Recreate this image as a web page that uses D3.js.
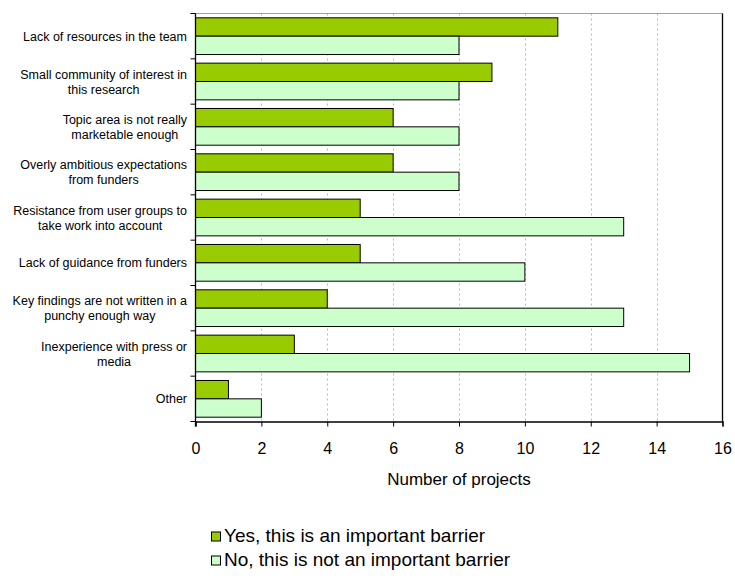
<!DOCTYPE html>
<html>
<head>
<meta charset="utf-8">
<script src="https://cdn.jsdelivr.net/npm/d3@7"></script>
<style>
  html, body { margin: 0; padding: 0; background: #fff; }
  svg { display: block; font-family: "Liberation Sans", Arial, sans-serif; }
</style>
</head>
<body>
<svg id="chart" width="735" height="576"></svg>
<script>
const categories = [
  ["Lack of resources in the team"],
  ["Small community of interest in", "this research"],
  ["Topic area is not really", "marketable enough"],
  ["Overly ambitious expectations", "from funders"],
  ["Resistance from user groups to", "take work into account"],
  ["Lack of guidance from funders"],
  ["Key findings are not written in a", "punchy enough way"],
  ["Inexperience with press or", "media"],
  ["Other"]
];
const yesValues = [11, 9, 6, 6, 5, 5, 4, 3, 1];
const noValues  = [8, 8, 8, 8, 13, 10, 13, 15, 2];
const seriesNames = ["Yes, this is an important barrier", "No, this is not an important barrier"];
const seriesColors = ["#99CC00", "#CCFFCC"];
const xTicks = [0, 2, 4, 6, 8, 10, 12, 14, 16];

const svg = d3.select("#chart");
const L = 195.5, R = 722.5, T = 13.5, B = 421.5;

const x = d3.scaleLinear().domain([0, 16]).range([L, R]);
const y = d3.scaleBand().domain(d3.range(categories.length)).range([T, B]).paddingInner(0).paddingOuter(0);
const groupFrac = 0.81;
const bh = y.bandwidth() * groupFrac / 2;

// gridlines
svg.append("g").selectAll("line").data(xTicks.filter(d => d > 0 && d < 16)).join("line")
  .attr("x1", d => Math.round(x(d)) + 0.5).attr("x2", d => Math.round(x(d)) + 0.5)
  .attr("y1", T).attr("y2", B)
  .attr("stroke", "#b8b8b8").attr("stroke-width", 1).attr("stroke-dasharray", "2,3");

// plot border top (gray) and right (black)
svg.append("line").attr("x1", L).attr("x2", R).attr("y1", T).attr("y2", T)
  .attr("stroke", "#a0a0a0").attr("stroke-width", 1);
svg.append("line").attr("x1", R).attr("x2", R).attr("y1", T).attr("y2", B)
  .attr("stroke", "#000").attr("stroke-width", 1.3);

// bars
const series = [yesValues, noValues];
series.forEach((vals, si) => {
  svg.append("g").selectAll("rect").data(vals).join("rect")
    .attr("x", x(0))
    .attr("y", (d, i) => y(i) + (y.bandwidth() - 2 * bh) / 2 + si * bh)
    .attr("width", d => x(d) - x(0))
    .attr("height", bh)
    .attr("fill", seriesColors[si])
    .attr("stroke", "#000").attr("stroke-width", 1);
});

// x axis
const xAxis = d3.axisBottom(x).tickValues(xTicks).tickSize(5).tickFormat(d3.format("d"));
const gx = svg.append("g").attr("transform", `translate(0,${B})`).call(xAxis);
gx.select(".domain").attr("stroke", "#000").attr("stroke-width", 1.3);
gx.selectAll(".tick line").attr("stroke", "#000");
gx.selectAll(".tick text").attr("font-size", "16px").attr("fill", "#000")
  .attr("font-family", "Liberation Sans, Arial, sans-serif").attr("y", 0).attr("dy", 0)
  .attr("transform", `translate(0,${454 - B})`);

// y axis (ticks at band boundaries)
const yEdges = d3.range(categories.length + 1).map(i => T + i * y.bandwidth());
svg.append("line").attr("x1", L).attr("x2", L).attr("y1", T).attr("y2", B + 5)
  .attr("stroke", "#000").attr("stroke-width", 1.3);
svg.append("g").selectAll("line").data(yEdges).join("line")
  .attr("x1", L - 5).attr("x2", L).attr("y1", d => d).attr("y2", d => d)
  .attr("stroke", "#000").attr("stroke-width", 1);

// category labels
const labelRight = 187;
const lineH = 15;
const lg = svg.append("g").attr("font-size", "12.5px").attr("fill", "#000");
categories.forEach((lines, i) => {
  const cy = y(i) + y.bandwidth() / 2;
  const t = lg.append("text").attr("text-anchor", "middle");
  const n = lines.length;
  lines.forEach((ln, k) => {
    t.append("tspan").attr("y", cy + (k - (n - 1) / 2) * lineH + 4.5).text(ln);
  });
  let maxW = 0;
  t.selectAll("tspan").each(function() { maxW = Math.max(maxW, this.getComputedTextLength()); });
  t.selectAll("tspan").attr("x", labelRight - maxW / 2);
});

// axis title
svg.append("text").attr("x", (L + R) / 2).attr("y", 485).attr("text-anchor", "middle")
  .attr("font-size", "17px").attr("fill", "#000").text("Number of projects");

// legend
const leg = svg.append("g");
seriesNames.forEach((name, i) => {
  const ly = 532 + i * 24;
  leg.append("rect").attr("x", 211.5).attr("y", ly).attr("width", 9).attr("height", 9)
    .attr("fill", seriesColors[i]).attr("stroke", "#000").attr("stroke-width", 1);
  leg.append("text").attr("x", 224).attr("y", ly + 10).attr("font-size", "19px")
    .attr("fill", "#000").text(name);
});
</script>
</body>
</html>
